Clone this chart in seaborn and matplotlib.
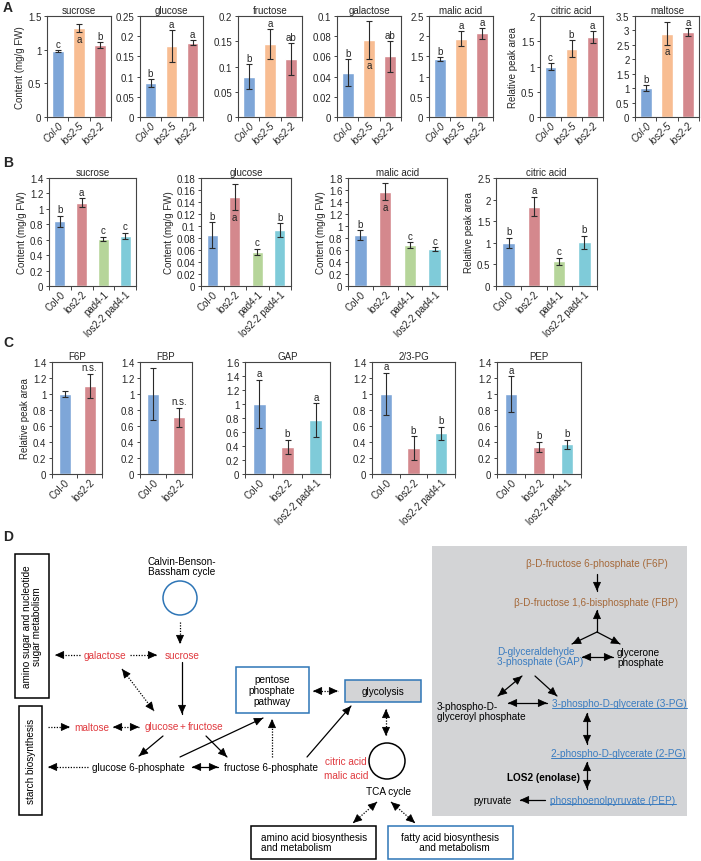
import numpy as np
import pandas as pd
import matplotlib
matplotlib.use('Agg')
import matplotlib.pyplot as plt
import seaborn as sns
from matplotlib.patches import Rectangle, Circle
from matplotlib.ticker import FuncFormatter, FixedLocator

sns.set_style('ticks')
plt.rcParams['font.family'] = ['Liberation Sans', 'DejaVu Sans']

BLUE, ORANGE, RED, GREEN, CYAN = '#7ea6d8', '#f8bd92', '#d4888d', '#b6d59a', '#7fcbd9'

# --- Panel A: Col-0 / los2-5 / los2-2
a_geno = ['Col-0', 'los2-5', 'los2-2']
a_sucrose = [0.98, 1.32, 1.07]
a_sucrose_err = [0.015, 0.065, 0.04]
a_sucrose_let = ['c', 'a', 'b']
a_glucose = [0.084, 0.175, 0.184]
a_glucose_err = [0.01, 0.04, 0.007]
a_glucose_let = ['b', 'a', 'a']
a_fructose = [0.080, 0.145, 0.115]
a_fructose_err = [0.024, 0.03, 0.031]
a_fructose_let = ['b', 'a', 'ab']
a_galactose = [0.044, 0.076, 0.060]
a_galactose_err = [0.013, 0.019, 0.015]
a_galactose_let = ['b', 'a', 'ab']
a_malic = [1.43, 1.94, 2.07]
a_malic_err = [0.05, 0.19, 0.14]
a_malic_let = ['b', 'a', 'a']
a_citric = [1.00, 1.35, 1.58]
a_citric_err = [0.07, 0.17, 0.12]
a_citric_let = ['c', 'b', 'a']
a_maltose = [1.00, 2.88, 2.95]
a_maltose_err = [0.1, 0.4, 0.13]
a_maltose_let = ['b', 'a', 'a']

# --- Panel B: Col-0 / los2-2 / pad4-1 / los2-2 pad4-1
b_geno = ['Col-0', 'los2-2', 'pad4-1', 'los2-2 pad4-1']
b_sucrose = [0.84, 1.08, 0.61, 0.65]
b_sucrose_err = [0.07, 0.06, 0.03, 0.04]
b_sucrose_let = ['b', 'a', 'c', 'c']
b_glucose = [0.085, 0.148, 0.057, 0.093]
b_glucose_err = [0.021, 0.022, 0.005, 0.012]
b_glucose_let = ['b', 'a', 'c', 'b']
b_malic = [0.85, 1.57, 0.68, 0.62]
b_malic_err = [0.08, 0.14, 0.05, 0.03]
b_malic_let = ['b', 'a', 'c', 'c']
b_citric = [1.00, 1.84, 0.57, 1.01]
b_citric_err = [0.12, 0.23, 0.08, 0.15]
b_citric_let = ['b', 'a', 'c', 'b']

# --- Panel C: glycolysis intermediates
c_geno2 = ['Col-0', 'los2-2']
c_geno3 = ['Col-0', 'los2-2', 'los2-2 pad4-1']
c_f6p = [1.00, 1.10]
c_f6p_err = [0.04, 0.15]
c_f6p_let = ['', 'n.s.']
c_fbp = [1.00, 0.71]
c_fbp_err = [0.32, 0.12]
c_fbp_let = ['', 'n.s.']
c_gap = [1.00, 0.39, 0.77]
c_gap_err = [0.34, 0.10, 0.24]
c_gap_let = ['a', 'b', 'a']
c_pg = [1.00, 0.32, 0.51]
c_pg_err = [0.26, 0.15, 0.08]
c_pg_let = ['a', 'b', 'b']
c_pep = [1.00, 0.34, 0.37]
c_pep_err = [0.22, 0.06, 0.06]
c_pep_let = ['a', 'b', 'b']

W, H = 701, 862
fig = plt.figure(figsize=(W / 100, H / 100), dpi=100)

CONTENT = 'Content (mg/g FW)'
REL = 'Relative peak area'


def bar_panel(l, r, t, b, title, geno, vals, errs, lets, colors, ymax, step,
              ylabel=None, inside=(), width=0.55, italic=False):
    ax = fig.add_axes([l / W, 1 - b / H, (r - l) / W, (b - t) / H])
    df = pd.DataFrame({'g': geno, 'v': vals})
    sns.barplot(data=df, x='g', y='v', hue='g', palette=colors, legend=False,
                saturation=1, width=width, ax=ax)
    ax.errorbar(range(len(vals)), vals, yerr=errs, fmt='none', ecolor='#2a2a2a',
                elinewidth=0.8, capsize=2.5, capthick=0.8, zorder=5)
    ax.set_xlim(-0.5, len(vals) - 0.5)
    ax.set_ylim(0, ymax)
    ax.yaxis.set_major_locator(FixedLocator(np.arange(0, ymax + step / 2, step)))
    ax.yaxis.set_major_formatter(FuncFormatter(lambda v, p: f'{v:g}'))
    ax.xaxis.set_minor_locator(FixedLocator(np.arange(-0.5, len(vals), 1.0)))
    ax.tick_params(axis='x', which='major', length=0, pad=2)
    ax.tick_params(axis='x', which='minor', length=3, width=0.7, color='#444')
    ax.tick_params(axis='y', length=2.5, width=0.7, color='#444', labelsize=7, pad=1.5)
    ax.set_xticks(range(len(vals)))
    ax.set_xticklabels(geno, rotation=45, ha='right', rotation_mode='anchor',
                       fontsize=7, style='italic' if italic else 'normal')
    for s in ax.spines.values():
        s.set_visible(True)
        s.set_linewidth(0.8)
        s.set_color('#444')
    ax.set_xlabel('')
    ax.set_ylabel(ylabel if ylabel else '', fontsize=7, labelpad=2)
    ax.set_title(title, fontsize=7, pad=2)
    off = ymax * 0.06
    for i, (v, e, lt) in enumerate(zip(vals, errs, lets)):
        if i in inside:
            ax.text(i, v - e - off, lt, ha='center', va='center', fontsize=7)
        else:
            ax.text(i, v + e + off, lt, ha='center', va='center', fontsize=7)
    ax.set_facecolor('white')
    return ax


ca = [BLUE, ORANGE, RED]
tA, bA = 17, 118
bar_panel(47, 111, tA, bA, 'sucrose', a_geno, a_sucrose, a_sucrose_err, a_sucrose_let, ca, 1.5, 0.5, CONTENT, inside=(1,), italic=True)
bar_panel(140, 203, tA, bA, 'glucose', a_geno, a_glucose, a_glucose_err, a_glucose_let, ca, 0.25, 0.05, italic=True)
bar_panel(238, 302, tA, bA, 'fructose', a_geno, a_fructose, a_fructose_err, a_fructose_let, ca, 0.2, 0.05, italic=True)
bar_panel(337, 401, tA, bA, 'galactose', a_geno, a_galactose, a_galactose_err, a_galactose_let, ca, 0.1, 0.02, inside=(1,), italic=True)
bar_panel(429, 493, tA, bA, 'malic acid', a_geno, a_malic, a_malic_err, a_malic_let, ca, 2.5, 0.5, italic=True)
bar_panel(540, 603, tA, bA, 'citric acid', a_geno, a_citric, a_citric_err, a_citric_let, ca, 2.0, 0.5, REL, italic=True)
bar_panel(635, 699, tA, bA, 'maltose', a_geno, a_maltose, a_maltose_err, a_maltose_let, ca, 3.5, 0.5, inside=(1,), italic=True)

cb = [BLUE, RED, GREEN, CYAN]
tB, bB = 179, 287
bar_panel(49, 136, tB, bB, 'sucrose', b_geno, b_sucrose, b_sucrose_err, b_sucrose_let, cb, 1.4, 0.2, CONTENT, width=0.5)
bar_panel(201, 291, tB, bB, 'glucose', b_geno, b_glucose, b_glucose_err, b_glucose_let, cb, 0.18, 0.02, CONTENT, inside=(1,), width=0.5)
bar_panel(348, 447, tB, bB, 'malic acid', b_geno, b_malic, b_malic_err, b_malic_let, cb, 1.8, 0.2, CONTENT, inside=(1,), width=0.5)
bar_panel(496, 597, tB, bB, 'citric acid', b_geno, b_citric, b_citric_err, b_citric_let, cb, 2.5, 0.5, REL, width=0.5)

c2 = [BLUE, RED]
c3 = [BLUE, RED, CYAN]
tC, bC = 363, 475
bar_panel(52, 102, tC, bC, 'F6P', c_geno2, c_f6p, c_f6p_err, c_f6p_let, c2, 1.4, 0.2, REL, width=0.48)
bar_panel(140, 192, tC, bC, 'FBP', c_geno2, c_fbp, c_fbp_err, c_fbp_let, c2, 1.4, 0.2, width=0.48)
bar_panel(245, 330, tC, bC, 'GAP', c_geno3, c_gap, c_gap_err, c_gap_let, c3, 1.6, 0.2, width=0.45)
bar_panel(372, 455, tC, bC, '2/3-PG', c_geno3, c_pg, c_pg_err, c_pg_let, c3, 1.4, 0.2, width=0.45)
bar_panel(497, 581, tC, bC, 'PEP', c_geno3, c_pep, c_pep_err, c_pep_let, c3, 1.4, 0.2, width=0.45)

# --- Panel D: pathway diagram drawn in pixel coordinates
dax = fig.add_axes([0, 0, 1, 1], facecolor='none')
dax.set_xlim(0, W)
dax.set_ylim(H, 0)
dax.axis('off')

for lab, x, y in [('A', 8, 8), ('B', 8, 163), ('C', 8, 343), ('D', 8, 537)]:
    dax.text(x, y, lab, fontsize=10, fontweight='bold', ha='center', va='center')

TRED, TBLUE, TBROWN, BBLUE = '#e0393e', '#3a7cc0', '#a5693a', '#2e75b6'
FS = 7.2


def txt(x, y, s, color='k', ha='center', **kw):
    return dax.text(x, y, s, color=color, fontsize=FS, ha=ha, va='center', **kw)


def head(x0, y0, x1, y1):
    d = np.hypot(x1 - x0, y1 - y0)
    ux, uy = (x1 - x0) / d, (y1 - y0) / d
    dax.annotate('', xy=(x1, y1), xytext=(x1 - ux * 4, y1 - uy * 4),
                 arrowprops=dict(arrowstyle='-|>,head_length=0.55,head_width=0.25',
                                 color='k', lw=0.6, shrinkA=0, shrinkB=0))


def arrow(x0, y0, x1, y1, dotted=False, both=False):
    dax.plot([x0, x1], [y0, y1], color='k', lw=0.9, ls=(0, (1, 1.2)) if dotted else '-')
    head(x0, y0, x1, y1)
    if both:
        head(x1, y1, x0, y0)


def box(x0, y0, x1, y1, ec='k', fc='white'):
    dax.add_patch(Rectangle((x0, y0), x1 - x0, y1 - y0, fill=True, fc=fc, ec=ec, lw=1.1))


# grey glycolysis panel
dax.add_patch(Rectangle((432, 547), 255, 270, fc='#d3d4d6', ec='none'))

box(15, 555, 49, 699)
txt(32, 627, 'amino sugar and nucleotide\nsugar metabolism', rotation=90, linespacing=1.1)
box(19, 707, 42, 816)
txt(30.5, 761, 'starch biosynthesis', rotation=90)

txt(182, 567, 'Calvin-Benson-\nBassham cycle', linespacing=1.1)
dax.add_patch(Circle((180, 599), 17, fill=False, ec=BBLUE, lw=1.1))
arrow(180, 623, 180, 645, dotted=True)

txt(182, 656, 'sucrose', TRED)
txt(105, 656, 'galactose', TRED)
arrow(80, 656, 55, 656, dotted=True)
arrow(130, 656, 157, 656, dotted=True)
arrow(122, 670, 154, 712, dotted=True, both=True)
arrow(182, 663, 182, 715)

txt(92, 728, 'maltose', TRED)
arrow(48, 728, 70, 728, dotted=True)
arrow(113, 728, 139, 728, dotted=True, both=True)
txt(162, 727, 'glucose', TRED)
txt(183, 727, '+', TRED)
txt(206, 727, 'fructose', TRED)
arrow(163, 737, 139, 757)
arrow(206, 737, 227, 758)

txt(138, 768, 'glucose 6-phosphate')
arrow(88, 768, 48, 768, dotted=True)
arrow(192, 768, 218, 768, both=True)
txt(271, 768, 'fructose 6-phosphate')
arrow(180, 758, 263, 719)
arrow(272, 758, 272, 720, dotted=True)

box(236, 668, 309, 714, ec=BBLUE)
txt(272, 691, 'pentose\nphosphate\npathway', linespacing=1.15)
arrow(313, 692, 338, 692, dotted=True, both=True)
box(345, 681, 421, 703, ec=BBLUE, fc='#d3d4d6')
txt(383, 692, 'glycolysis')
arrow(307, 758, 351, 707)
arrow(386, 710, 386, 737, dotted=True, both=True)

dax.add_patch(Circle((387, 762), 18, fill=False, ec='k', lw=1.1))
txt(346, 762, 'citric acid', TRED)
txt(346, 776, 'malic acid', TRED)
txt(388, 792, 'TCA cycle')
arrow(377, 803, 353, 824, dotted=True, both=True)
arrow(391, 803, 415, 824, dotted=True, both=True)

box(251, 827, 376, 860)
txt(261, 843, 'amino acid biosynthesis\nand metabolism', ha='left', linespacing=1.1)
box(388, 827, 513, 860, ec=BBLUE)
txt(450, 843, 'fatty acid biosynthesis\n   and metabolism', linespacing=1.1)

# glycolysis detail
txt(597, 564, 'β-D-fructose 6-phosphate (F6P)', TBROWN)
arrow(597, 575, 597, 592)
txt(596, 603, 'β-D-fructose 1,6-bisphosphate (FBP)', TBROWN)
arrow(597, 633, 597, 611)
arrow(597, 633, 572, 645)
arrow(597, 633, 620, 645)
txt(497, 657, 'D-glyceraldehyde\n3-phosphate (GAP)', TBLUE, ha='left', linespacing=1.1)
arrow(582, 658, 613, 658, both=True)
txt(617, 658, 'glycerone\nphosphate', ha='left', linespacing=1.1)
arrow(522, 677, 498, 697, both=True)
arrow(535, 677, 557, 697)
txt(437, 712, '3-phospho-D-\nglyceroyl phosphate', ha='left', linespacing=1.1)
arrow(508, 704, 547, 704, both=True)
underlined = [
    txt(552, 704, '3-phospho-D-glycerate (3-PG)', TBLUE, ha='left'),
    txt(618, 754, '2-phospho-D-glycerate (2-PG)', TBLUE),
    txt(613, 801, 'phosphoenolpyruvate (PEP)', TBLUE),
]
arrow(587, 714, 587, 745, both=True)
arrow(587, 763, 587, 790, both=True)
txt(580, 778, 'LOS2 (enolase)', ha='right', fontweight='bold')
arrow(545, 801, 520, 801)
txt(512, 801, 'pyruvate', ha='right')

fig.canvas.draw()
inv = dax.transData.inverted()
for t in underlined:
    bb = t.get_window_extent()
    (x0, y0), (x1, y1) = inv.transform([(bb.x0, bb.y0), (bb.x1, bb.y1)])
    dax.plot([x0, x1], [y0 - 0.5, y0 - 0.5], color=TBLUE, lw=0.7)

fig.savefig('out.png', dpi=100)
